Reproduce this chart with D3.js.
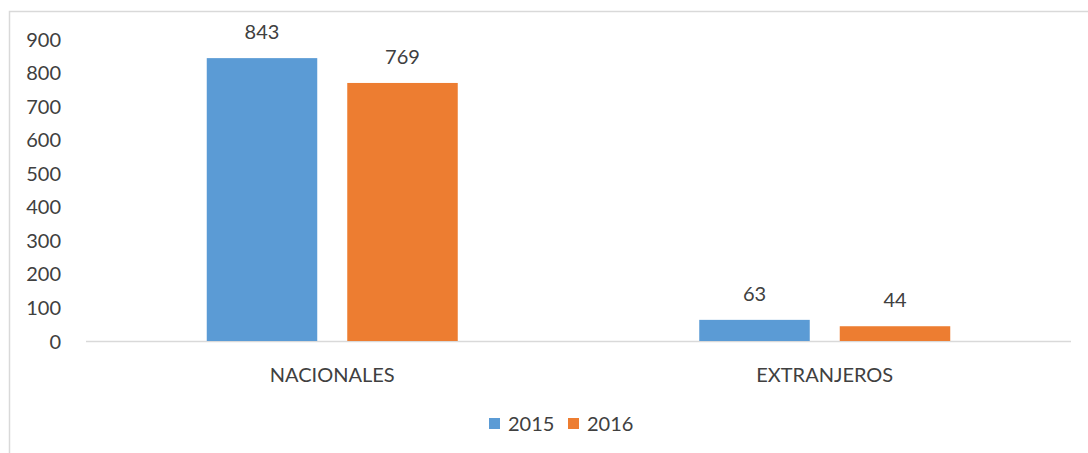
<!DOCTYPE html>
<html><head><meta charset="utf-8">
<script src="https://cdn.jsdelivr.net/npm/d3@7"></script>
<style>body{margin:0;background:#fff}svg{display:block}text{font-family:Lato,"Open Sans",sans-serif;fill:#404040}</style>
</head><body><svg id="c" width="1088" height="453"></svg>
<script>
const categories = ["NACIONALES", "EXTRANJEROS"];
const seriesNames = ["2015", "2016"];
const values2015 = [843, 63];
const values2016 = [769, 44];
const yTicks = [0, 100, 200, 300, 400, 500, 600, 700, 800, 900];
const colors = ["#5B9BD5", "#ED7D31"];

const svg = d3.select("#c");
svg.append("rect").attr("x", 9.5).attr("y", 11.5).attr("width", 1090).attr("height", 460)
  .attr("fill", "none").attr("stroke", "#d9d9d9").attr("stroke-width", 1.5);

const x0 = d3.scaleBand().domain(categories).range([86, 1071]);
const y = d3.scaleLinear().domain([0, 900]).range([341, 39]);
const data = categories.map((c, i) => ({cat: c, vals: [values2015[i], values2016[i]]}));

const barW = 110.5, gap = 30;
const FS = "20px";

const yAxis = d3.axisLeft(y).tickValues(yTicks).tickSize(0).tickPadding(0);
const ga = svg.append("g").attr("transform", "translate(61,0)").call(yAxis);
ga.select(".domain").remove();
ga.selectAll("text").style("font-size", FS).style("font-family", "Lato").attr("fill", "#404040").attr("dy", "0.35em");

svg.append("line").attr("x1", 86).attr("x2", 1071).attr("y1", 341.5).attr("y2", 341.5)
  .attr("stroke", "#d9d9d9").attr("stroke-width", 1.5);

const groups = svg.selectAll("g.cat").data(data).join("g").attr("class", "cat")
  .attr("transform", d => `translate(${x0(d.cat) + x0.bandwidth() / 2 - (2 * barW + gap) / 2},0)`);

groups.selectAll("rect").data(d => d.vals.map((v, j) => ({v, j}))).join("rect")
  .attr("x", d => d.j * (barW + gap)).attr("width", barW)
  .attr("y", d => y(d.v)).attr("height", d => y(0) - y(d.v))
  .attr("fill", d => colors[d.j]);

groups.selectAll("text.val").data(d => d.vals.map((v, j) => ({v, j}))).join("text")
  .attr("class", "val")
  .attr("x", d => d.j * (barW + gap) + barW / 2).attr("y", d => y(d.v) - 19)
  .attr("text-anchor", "middle").style("font-size", FS).text(d => d.v);

svg.selectAll("text.catl").data(categories).join("text").attr("class", "catl")
  .attr("x", d => x0(d) + x0.bandwidth() / 2).attr("y", 382)
  .attr("text-anchor", "middle").style("font-size", FS).text(d => d);

const legX = [489, 568];
const lg = svg.selectAll("g.leg").data(seriesNames).join("g").attr("class", "leg")
  .attr("transform", (d, i) => `translate(${legX[i]},0)`);
lg.append("rect").attr("x", 0).attr("y", 418).attr("width", 11).attr("height", 11)
  .attr("fill", (d, i) => colors[i]);
lg.append("text").attr("x", 19).attr("y", 431).style("font-size", FS).text(d => d);
</script></body></html>
